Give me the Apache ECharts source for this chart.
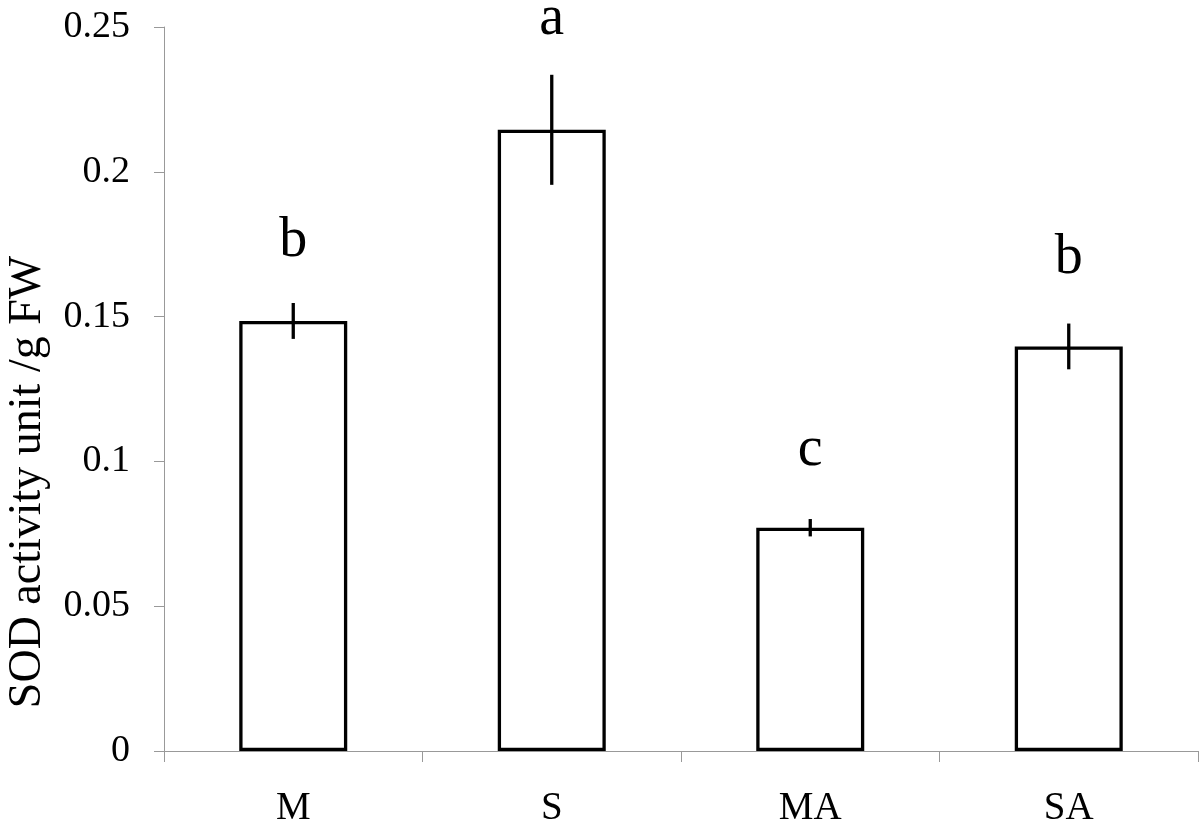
<!DOCTYPE html>
<html>
<head>
<meta charset="utf-8">
<script src="https://cdn.jsdelivr.net/npm/echarts@6/dist/echarts.min.js"></script>
<style>html,body{margin:0;padding:0;background:#fff}#c{width:1200px;height:828px}</style>
</head>
<body>
<div id="c"></div>
<script>
const categories = ['M', 'S', 'MA', 'SA'];
const values = [0.1485, 0.2145, 0.0771, 0.1397];
const errors = [0.0062, 0.019, 0.003, 0.0079];
const letters = ['b', 'a', 'c', 'b'];
const letterPos = [0.176, 0.2528, 0.1037, 0.170];
const yTicks = [0, 0.05, 0.1, 0.15, 0.2, 0.25];
const yTitle = 'SOD activity unit /g FW';

const FONT = 'Liberation Serif';
const chart = echarts.init(document.getElementById('c'));
chart.setOption({
  animation: false,
  backgroundColor: '#fff',
  textStyle: { fontFamily: FONT },
  grid: { left: 164, right: 2, top: 27, bottom: 75, containLabel: false },
  xAxis: {
    type: 'category',
    data: categories,
    boundaryGap: true,
    axisLine: { lineStyle: { color: '#999', width: 1 } },
    axisTick: { show: true, length: 11, lineStyle: { color: '#999' } },
    axisLabel: { fontFamily: FONT, fontSize: 39, color: '#000', margin: 38 }
  },
  yAxis: {
    type: 'value',
    min: 0, max: 0.25, interval: 0.05,
    splitLine: { show: false },
    axisLine: { show: true, lineStyle: { color: '#999', width: 1 } },
    axisTick: { show: true, length: 10, lineStyle: { color: '#999' } },
    axisLabel: {
      fontFamily: FONT, fontSize: 38, color: '#000', margin: 34,
      formatter: v => { const t = yTicks.find(x => Math.abs(x - v) < 1e-9); return String(t !== undefined ? t : v); }
    }
  },
  graphic: [{
    type: 'text', x: 28, y: 482, rotation: Math.PI / 2,
    style: { text: yTitle, font: '46px "Liberation Serif"', fill: '#000', align: 'center', verticalAlign: 'middle' }
  }],
  series: [
    {
      type: 'bar',
      data: values,
      barWidth: 108,
      itemStyle: { color: '#fff', borderColor: '#000', borderWidth: 3.3 },
      z: 2
    },
    {
      type: 'custom',
      data: values.map((v, i) => [i, v - errors[i], v + errors[i]]),
      renderItem: (params, api) => {
        const lo = api.coord([api.value(0), api.value(1)]);
        const hi = api.coord([api.value(0), api.value(2)]);
        return { type: 'line', shape: { x1: lo[0], y1: lo[1], x2: hi[0], y2: hi[1] },
                 style: { stroke: '#000', lineWidth: 3.3 } };
      },
      z: 3
    },
    {
      type: 'scatter',
      data: letterPos.map((v, i) => [i, v]),
      symbolSize: 0,
      clip: false,
      itemStyle: { color: '#000', opacity: 1 },
      label: {
        show: true, position: 'inside',
        formatter: p => letters[p.dataIndex],
        fontFamily: FONT, fontSize: 56, color: '#000', textBorderWidth: 0, opacity: 1
      },
      z: 4
    }
  ]
});
</script>
</body>
</html>
